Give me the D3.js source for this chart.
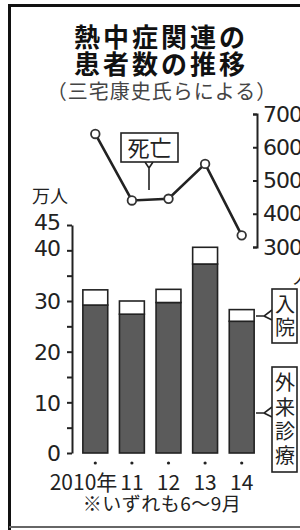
<!DOCTYPE html>
<html><head><meta charset="utf-8">
<script src="https://cdn.jsdelivr.net/npm/d3@7"></script>
<style>
html,body{margin:0;padding:0;background:#fff;overflow:hidden;}
svg{display:block;}
</style></head>
<body>
<script>
// ---- data ----
const years = ["2010", "11", "12", "13", "14"];
const outpatient = [29.2, 27.4, 29.7, 37.3, 26.0];   // 外来診療 (万人)
const inpatient  = [3.0, 2.6, 2.6, 3.3, 2.3];        // 入院 (万人)
const deaths     = [640, 440, 445, 550, 335];        // 死亡 (人)
const leftTicks  = [0, 5, 10, 15, 20, 25, 30, 35, 40, 45];
const leftLabels = [0, 10, 20, 30, 40, 45];
const rightTicks = [300, 400, 500, 600, 700];
const titleLines = ["熱中症関連の", "患者数の推移"];
const subtitle = "（三宅康史氏らによる）";
const note = "※いずれも6〜9月";

const W = 300, H = 530;
const svg = d3.select("body").append("svg").attr("width", W).attr("height", H);
const JP = "'Noto Sans CJK JP', sans-serif";
const NUM = "'DejaVu Sans', sans-serif";

// frame
svg.append("path").attr("d", "M9.5,540 V5.5 H310").attr("fill", "none").attr("stroke", "#111").attr("stroke-width", 3);
svg.append("line").attr("x1", 9).attr("x2", 300).attr("y1", 527).attr("y2", 527).attr("stroke", "#666").attr("stroke-width", 2);

// title
const tt = svg.append("g").attr("font-family", JP).attr("text-anchor", "middle");
tt.selectAll("text.t").data(titleLines).join("text").attr("class", "t")
  .attr("x", 161).attr("y", (d, i) => 47 + i * 27)
  .attr("font-size", 26).attr("font-weight", 700).attr("letter-spacing", 3).attr("fill", "#111").text(d => d);
tt.append("text").attr("x", 162).attr("y", 99).attr("font-size", 20).attr("letter-spacing", 1).attr("fill", "#444").text(subtitle);

// scales
const x = d3.scaleBand().domain(years).range([77, 260]).paddingInner(0.32).paddingOuter(0.16);
const y = d3.scaleLinear().domain([0, 45]).range([453, 225]);
const yR = d3.scaleLinear().domain([300, 700]).range([247, 114]);

// left axis
const ax = svg.append("g").attr("transform", "translate(72,0)")
  .call(d3.axisLeft(y).tickValues(leftTicks).tickSizeInner(5).tickSizeOuter(0).tickPadding(7)
    .tickFormat(d => leftLabels.includes(d) ? d : ""));
ax.select(".domain").attr("stroke", "#222").attr("stroke-width", 2);
ax.selectAll(".tick line").attr("stroke", "#222").attr("stroke-width", 2);
ax.selectAll(".tick text").attr("font-family", NUM).attr("font-size", 22).attr("fill", "#222")
  .attr("letter-spacing", -1)
  .attr("dy", d => d === 40 ? "0.22em" : d === 45 ? "0.22em" : "0.36em");

svg.append("text").attr("x", 32).attr("y", 203).attr("font-family", JP).attr("font-size", 18)
  .attr("fill", "#222").text("万人");

// right axis
const axR = svg.append("g").attr("transform", "translate(257,0)")
  .call(d3.axisRight(yR).tickValues(rightTicks).tickSize(-4).tickPadding(6));
axR.select(".domain").attr("stroke", "#222").attr("stroke-width", 2);
axR.selectAll(".tick line").attr("stroke", "#222").attr("stroke-width", 2);
axR.selectAll(".tick text").attr("font-family", NUM).attr("font-size", 22).attr("fill", "#222")
  .attr("letter-spacing", -1);
svg.append("text").attr("x", 293).attr("y", 284).attr("font-family", JP).attr("font-size", 20)
  .attr("fill", "#222").text("人");

// bars
const bars = svg.append("g");
years.forEach((yr, i) => {
  const x0 = x(yr), bw = x.bandwidth();
  bars.append("rect").attr("x", x0).attr("width", bw)
    .attr("y", y(outpatient[i])).attr("height", y(0) - y(outpatient[i]))
    .attr("fill", "#5b5b5b").attr("stroke", "#222").attr("stroke-width", 1.6);
  bars.append("rect").attr("x", x0).attr("width", bw)
    .attr("y", y(outpatient[i] + inpatient[i])).attr("height", y(outpatient[i]) - y(outpatient[i] + inpatient[i]))
    .attr("fill", "#fff").attr("stroke", "#222").attr("stroke-width", 1.6);
});

// x labels and dots
svg.append("g").selectAll("circle").data(years).join("circle")
  .attr("cx", d => x(d) + x.bandwidth() / 2).attr("cy", 463).attr("r", 1.6).attr("fill", "#222");
const xl = svg.append("g").attr("font-family", JP).attr("font-size", 21).attr("fill", "#222");
xl.selectAll("text").data(years).join("text")
  .attr("x", (d, i) => i === 0 ? x(d) + x.bandwidth() / 2 + 22 : x(d) + x.bandwidth() / 2)
  .attr("text-anchor", (d, i) => i === 0 ? "end" : "middle")
  .attr("y", 490).text((d, i) => i === 0 ? d + "年" : d);
svg.append("text").attr("x", 162).attr("y", 511).attr("text-anchor", "middle")
  .attr("font-family", JP).attr("font-size", 19).attr("letter-spacing", 0.5).attr("fill", "#222").text(note);

// death line
const lx = d => x(d) + x.bandwidth() / 2;
svg.append("path").datum(deaths)
  .attr("d", d3.line().x((d, i) => lx(years[i])).y(d => yR(d)))
  .attr("fill", "none").attr("stroke", "#222").attr("stroke-width", 2.6);
svg.append("g").selectAll("circle").data(deaths).join("circle")
  .attr("cx", (d, i) => lx(years[i])).attr("cy", d => yR(d)).attr("r", 4.3)
  .attr("fill", "#fff").attr("stroke", "#333").attr("stroke-width", 1.8);

// 死亡 label
const lab = svg.append("g");
lab.append("path").attr("d", "M145,162 L149,168 L149,190 M153,162 L149,168").attr("fill", "none")
  .attr("stroke", "#222").attr("stroke-width", 1.6);
lab.append("rect").attr("x", 121).attr("y", 133).attr("width", 57).attr("height", 29)
  .attr("fill", "#fff").attr("stroke", "#222").attr("stroke-width", 1.6);
lab.append("text").attr("x", 149.5).attr("y", 156).attr("text-anchor", "middle")
  .attr("font-family", JP).attr("font-size", 22).attr("fill", "#222").text("死亡");

// side legends
function vlabel(chars, top, bottom, pointerY) {
  const g = svg.append("g");
  g.append("path").attr("d", `M256,${pointerY} H264 M272,${pointerY - 6} L264,${pointerY} L272,${pointerY + 4}`)
    .attr("fill", "none").attr("stroke", "#222").attr("stroke-width", 1.6);
  g.append("rect").attr("x", 272).attr("y", top).attr("width", 25).attr("height", bottom - top)
    .attr("fill", "#fff").attr("stroke", "#222").attr("stroke-width", 1.6);
  const step = (bottom - top - 8) / chars.length;
  g.selectAll("text").data(chars).join("text")
    .attr("x", 285).attr("y", (d, i) => top + 4 + step * (i + 0.5)).attr("dy", "0.36em")
    .attr("text-anchor", "middle").attr("font-family", JP).attr("font-size", 20).attr("fill", "#222")
    .text(d => d);
}
vlabel(["入", "院"], 289, 343, 316);
vlabel(["外", "来", "診", "療"], 367, 472, 413);
</script>
</body></html>
